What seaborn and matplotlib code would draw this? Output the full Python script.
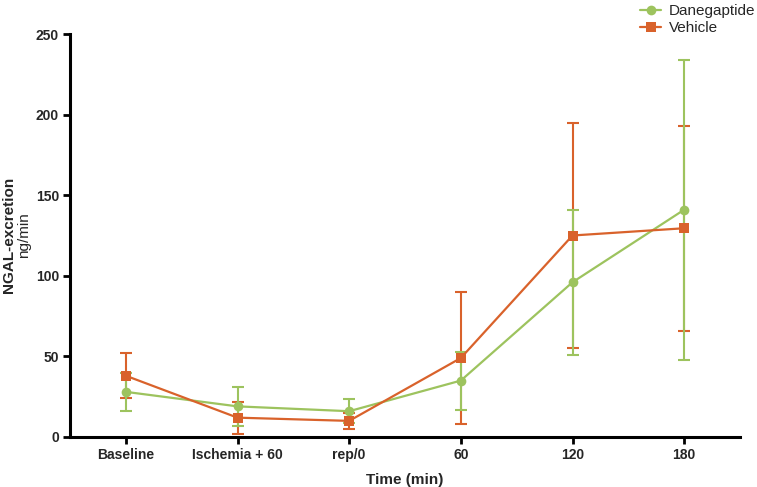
import matplotlib
matplotlib.use("Agg")
import matplotlib.pyplot as plt
import seaborn as sns
import numpy as np
import pandas as pd

# Data
time_labels = ["Baseline", "Ischemia + 60", "rep/0", "60", "120", "180"]
dane_mean = [28, 19, 16, 35, 96, 141]
dane_sd = [12, 12, 7.5, 18, 45, 93]
veh_mean = [38, 12, 10, 49, 125, 129.5]
veh_sd = [14, 10, 5, 41, 69.5, 63.5]

green = "#9DC35E"
orange = "#D9622B"

sns.set_style("ticks")
plt.rcParams["font.family"] = ["Liberation Sans", "DejaVu Sans"]

pos = np.arange(len(time_labels))
df = pd.DataFrame({
    "pos": np.concatenate([pos, pos]),
    "value": dane_mean + veh_mean,
    "group": ["Danegaptide"] * len(pos) + ["Vehicle"] * len(pos),
})

fig = plt.figure(figsize=(7.57, 4.87), dpi=100)
ax = fig.add_axes([70 / 757, 1 - 437 / 487, 670 / 757, (437 - 34) / 487])

# error bars first
ax.errorbar(pos, veh_mean, yerr=veh_sd, fmt="none", ecolor=orange,
            elinewidth=1.5, capsize=4, capthick=1.5, zorder=2)
ax.errorbar(pos, dane_mean, yerr=dane_sd, fmt="none", ecolor=green,
            elinewidth=1.5, capsize=4, capthick=1.5, zorder=2)

sns.lineplot(data=df, x="pos", y="value", hue="group", style="group",
             palette={"Danegaptide": green, "Vehicle": orange},
             markers={"Danegaptide": "o", "Vehicle": "s"},
             dashes=False, markersize=7, markeredgewidth=0,
             linewidth=1.6, ax=ax, zorder=3, legend=True)

ax.set_xlim(-0.5, 5.5)
ax.set_ylim(0, 250)
ax.set_xticks(pos)
ax.set_xticklabels(time_labels, fontsize=10, fontweight="bold")
ax.set_yticks([0, 50, 100, 150, 200, 250])
ax.set_yticklabels(["0", "50", "100", "150", "200", "250"], fontsize=10,
                   fontweight="bold")
ax.tick_params(axis="both", width=2, length=5, color="black", pad=3)

sns.despine(ax=ax)
for side in ["left", "bottom"]:
    ax.spines[side].set_linewidth(2.2)
    ax.spines[side].set_color("black")

ax.set_xlabel("Time (min)", fontsize=11, fontweight="bold", labelpad=8)
ax.set_ylabel("")
fig.text(9 / 757, 1 - 235 / 487, "NGAL-excretion", rotation=90, ha="center",
         va="center", fontsize=11, fontweight="bold")
fig.text(24 / 757, 1 - 235 / 487, "ng/min", rotation=90, ha="center",
         va="center", fontsize=11)

handles, labels = ax.get_legend_handles_labels()
ax.get_legend().remove()
fig.legend(handles, labels, loc="upper left", bbox_to_anchor=(637 / 757, 0.998),
           frameon=False, fontsize=11, handlelength=1.4, handletextpad=0.5,
           labelspacing=0.2, borderpad=0.2, borderaxespad=0)

fig.savefig("out.png", dpi=100)
